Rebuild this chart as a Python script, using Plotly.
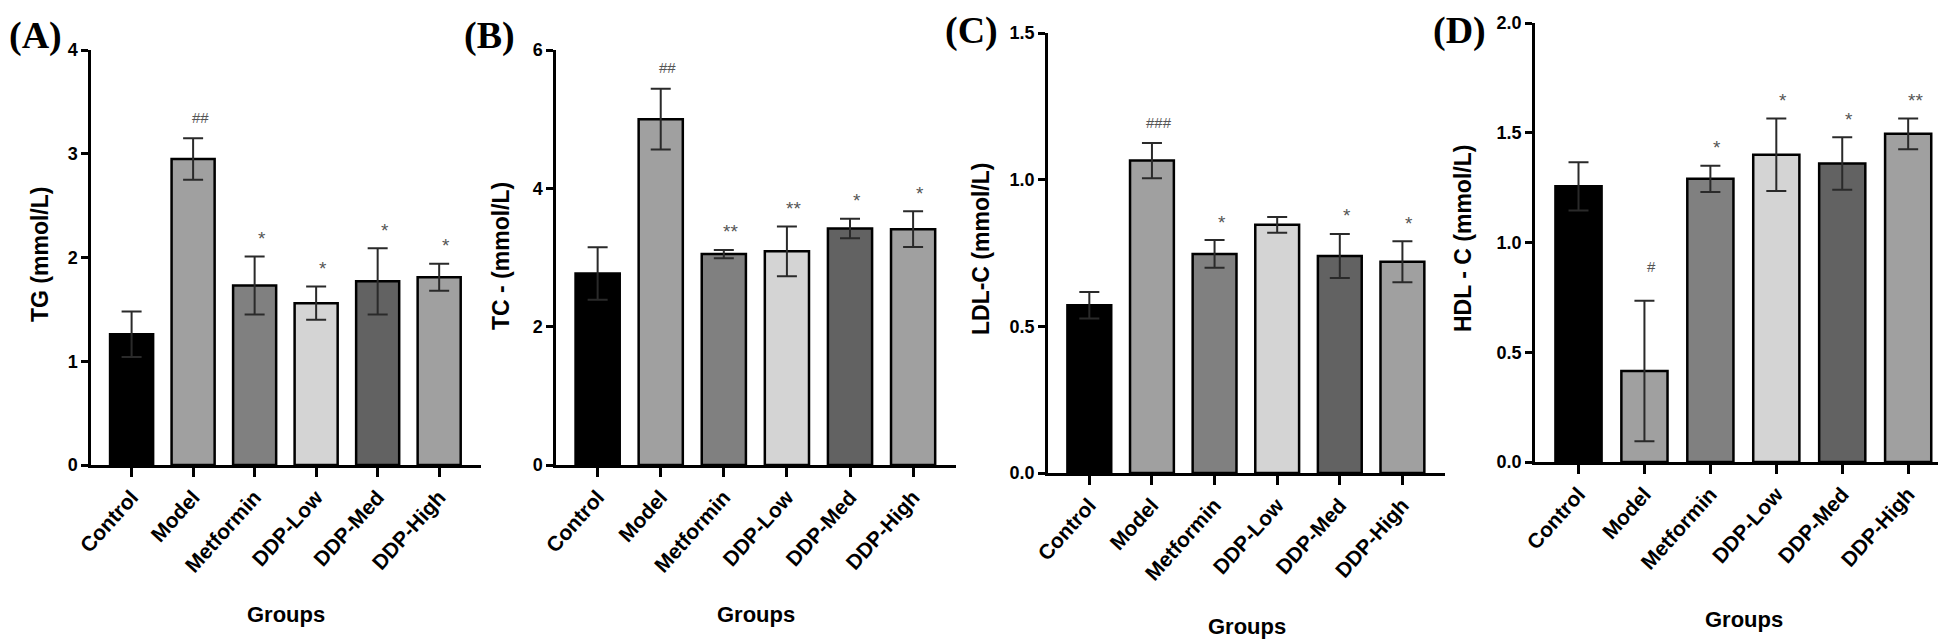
import plotly.graph_objects as go

# ---------------- data ----------------
groups = ["Control", "Model", "Metformin", "DDP-Low", "DDP-Med", "DDP-High"]

tg_mean = [1.26, 2.95, 1.73, 1.56, 1.77, 1.81]
tg_sem = [0.22, 0.20, 0.28, 0.16, 0.32, 0.13]
tg_sig = ["", "##", "*", "*", "*", "*"]

tc_mean = [2.77, 5.00, 3.05, 3.09, 3.42, 3.41]
tc_sem = [0.38, 0.44, 0.06, 0.36, 0.14, 0.26]
tc_sig = ["", "##", "**", "**", "*", "*"]

ldl_mean = [0.572, 1.065, 0.747, 0.846, 0.740, 0.720]
ldl_sem = [0.045, 0.060, 0.047, 0.027, 0.075, 0.070]
ldl_sig = ["", "###", "*", "", "*", "*"]

hdl_mean = [1.256, 0.415, 1.290, 1.400, 1.360, 1.495]
hdl_sem = [0.110, 0.320, 0.060, 0.165, 0.120, 0.070]
hdl_sig = ["", "#", "*", "*", "*", "**"]

bar_colors = ["#000000", "#a0a0a0", "#808080", "#d4d4d4", "#626262", "#a0a0a0"]

W, H = 1946, 640
FONT = "Liberation Sans"


def px(x):
    return min(max(x / W, 0.0), 1.0)


def py(y):
    return min(max(1 - y / H, 0.0), 1.0)


panels = [
    dict(label="(A)", ytitle="TG (mmol/L)", mean=tg_mean, sem=tg_sem, sig=tg_sig,
         yrange=[0, 4], dtick=1, fmt="d", box=(83, 473, 42, 457),
         lab_xy=(27, 28), ytitle_xy=(32, 247), groups_y=606),
    dict(label="(B)", ytitle="TC - (mmol/L)", mean=tc_mean, sem=tc_sem, sig=tc_sig,
         yrange=[0, 6], dtick=2, fmt="d", box=(548, 948, 42, 457),
         lab_xy=(481, 28), ytitle_xy=(493, 248), groups_y=606),
    dict(label="(C)", ytitle="LDL-C (mmol/L)", mean=ldl_mean, sem=ldl_sem, sig=ldl_sig,
         yrange=[0, 1.5], dtick=0.5, fmt=".1f", box=(1040, 1437, 25, 465),
         lab_xy=(963, 22), ytitle_xy=(973, 241), groups_y=618),
    dict(label="(D)", ytitle="HDL - C (mmol/L)", mean=hdl_mean, sem=hdl_sem, sig=hdl_sig,
         yrange=[0, 2], dtick=0.5, fmt=".1f", box=(1527, 1945, 15, 454),
         lab_xy=(1451, 22), ytitle_xy=(1455, 231), groups_y=611),
]

fig = go.Figure()
annotations = []
layout_axes = {}

for i, p in enumerate(panels):
    n = "" if i == 0 else str(i + 1)
    xa, ya = "x" + n, "y" + n
    x0, x1, y0, y1 = p["box"]
    fig.add_trace(go.Bar(
        x=list(range(len(groups))), y=p["mean"], width=0.7,
        marker=dict(color=bar_colors, line=dict(color="#000000", width=2.5)),
        error_y=dict(type="data", array=p["sem"], visible=True,
                     color="#2a2a2a", thickness=2, width=10),
        xaxis=xa, yaxis=ya, showlegend=False,
    ))
    common = dict(showline=True, linecolor="#000000", linewidth=2.5,
                  ticks="outside", tickcolor="#000000", tickwidth=2.5,
                  showgrid=False, zeroline=False, fixedrange=True,
                  automargin=False)
    layout_axes["xaxis" + n] = dict(
        common, domain=[px(x0), px(x1)], anchor=ya, range=[-0.66, 5.68],
        tickmode="array", tickvals=list(range(len(groups))), ticktext=groups,
        tickangle=-48, ticklen=9,
        tickfont=dict(family=FONT, size=21, color="#000000", weight="bold"))
    layout_axes["yaxis" + n] = dict(
        common, domain=[py(y1), py(y0)], anchor=xa, range=p["yrange"],
        dtick=p["dtick"], tick0=0, tickformat=p["fmt"], ticklen=7,
        tickfont=dict(family=FONT, size=18, color="#000000", weight="bold"))

    # significance marks
    for k, s in enumerate(p["sig"]):
        if not s:
            continue
        shift = 34 if s == "#" else 21
        star = "*" in s
        annotations.append(dict(
            x=k, y=p["mean"][k] + p["sem"][k], xref=xa, yref=ya,
            text=s, showarrow=False, xanchor="center",
            yanchor="middle", xshift=7, yshift=shift - (3 if star else 0),
            font=dict(family=FONT, size=19 if star else 15, color="#555555")))
    # panel label
    annotations.append(dict(
        x=px(p["lab_xy"][0]), y=py(p["lab_xy"][1]), xref="paper", yref="paper",
        xanchor="center", yanchor="middle",
        text="<b>" + p["label"] + "</b>", showarrow=False,
        font=dict(family="Liberation Serif", size=38, color="#000000")))
    # y title
    annotations.append(dict(
        x=px(p["ytitle_xy"][0]), y=py(p["ytitle_xy"][1]), xref="paper", yref="paper",
        xanchor="center", yanchor="middle",
        text="<b>" + p["ytitle"] + "</b>", showarrow=False, textangle=-90,
        font=dict(family=FONT, size=23, color="#000000")))
    # x title
    annotations.append(dict(
        x=px((x0 + x1) / 2), y=py(p["groups_y"]), xref="paper", yref="paper",
        xanchor="center", yanchor="middle",
        text="<b>Groups</b>", showarrow=False,
        font=dict(family=FONT, size=22, color="#000000")))

fig.update_layout(
    width=W, height=H, margin=dict(l=0, r=0, t=0, b=0, autoexpand=False),
    paper_bgcolor="#ffffff", plot_bgcolor="#ffffff",
    annotations=annotations, bargap=0.3, **layout_axes,
)

fig.write_html("out.html")
